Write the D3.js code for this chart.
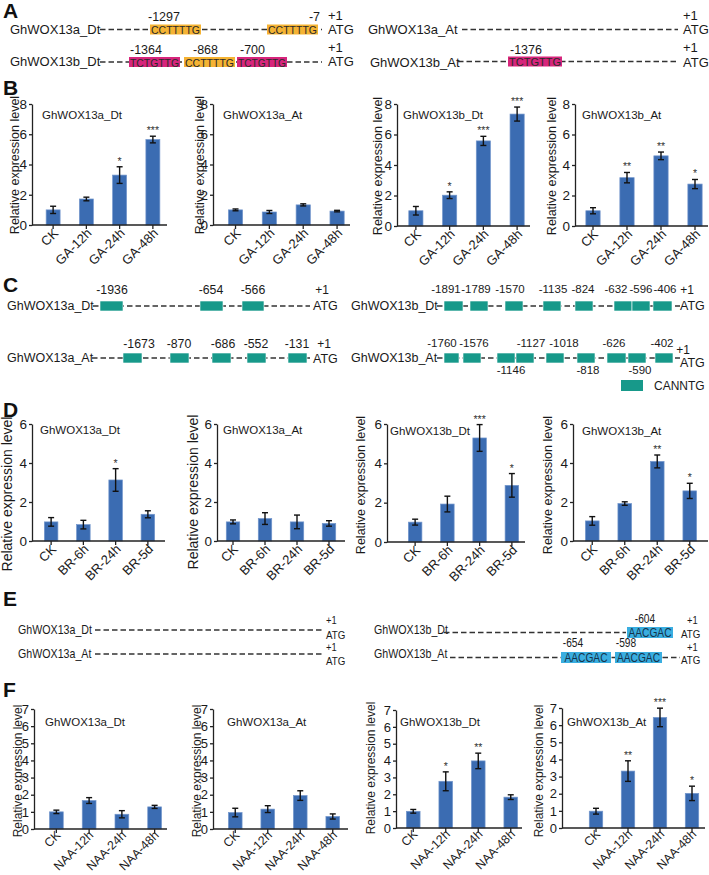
<!DOCTYPE html>
<html><head><meta charset="utf-8">
<script src="https://cdn.jsdelivr.net/npm/d3@7"></script>
<style>
body{margin:0;background:#fff;}
svg{display:block;font-family:"Liberation Sans",Arial,Helvetica,sans-serif;}
</style></head><body>
<svg id="fig" width="709" height="875"></svg>
<script>
// ================= DATA =================
const genes = ["GhWOX13a_Dt","GhWOX13a_At","GhWOX13b_Dt","GhWOX13b_At"];

// Panel B – GA treatment
const gaCategories = ["CK","GA-12h","GA-24h","GA-48h"];
const gaMeans = [[1.0,1.72,3.3,5.65],[1.0,0.86,1.33,0.92],[1.0,2.02,5.58,7.34],[1.0,3.17,4.6,2.75]];
const gaErrors = [[0.24,0.12,0.55,0.22],[0.06,0.1,0.07,0.05],[0.28,0.22,0.3,0.46],[0.2,0.34,0.25,0.3]];
const gaStars = [["","","*","***"],["","","",""],["","*","***","***"],["","**","**","*"]];
const gaTicks = [0,2,4,6,8];

// Panel D – BR treatment
const brCategories = ["CK","BR-6h","BR-24h","BR-5d"];
const brMeans = [[0.98,0.84,3.13,1.37],[0.98,1.15,0.98,0.9],[1.01,1.93,5.29,2.88],[1.03,1.92,4.08,2.57]];
const brErrors = [[0.22,0.22,0.58,0.18],[0.1,0.3,0.35,0.14],[0.15,0.4,0.68,0.6],[0.22,0.09,0.33,0.39]];
const brStars = [["","","*",""],["","","",""],["","","***","*"],["","","**","*"]];
const brTicks = [0,2,4,6];

// Panel F – NAA treatment
const naaCategories = ["CK","NAA-12h","NAA-24h","NAA-48h"];
const naaMeans = [[1.0,1.66,0.86,1.29],[0.96,1.16,1.95,0.73],[0.99,2.77,3.98,1.83],[0.98,3.32,6.45,2.02]];
const naaErrors = [[0.1,0.17,0.21,0.09],[0.25,0.2,0.28,0.15],[0.11,0.56,0.46,0.14],[0.17,0.6,0.54,0.42]];
const naaStars = [["","","",""],["","","",""],["","*","**",""],["","**","***","*"]];
const naaTicks = [0,1,2,3,4,5,6,7];

// Promoter motif data
const panelA = [
  {gene:"GhWOX13a_Dt", motifs:[{pos:"-1297",seq:"CCTTTTG"},{pos:"-7",seq:"CCTTTTG"}]},
  {gene:"GhWOX13b_Dt", motifs:[{pos:"-1364",seq:"TCTGTTG"},{pos:"-868",seq:"CCTTTTG"},{pos:"-700",seq:"TCTGTTG"}]},
  {gene:"GhWOX13a_At", motifs:[]},
  {gene:"GhWOX13b_At", motifs:[{pos:"-1376",seq:"TCTGTTG"}]}
];
const panelC = [
  {gene:"GhWOX13a_Dt", motifs:["-1936","-654","-566"]},
  {gene:"GhWOX13a_At", motifs:["-1673","-870","-686","-552","-131"]},
  {gene:"GhWOX13b_Dt", motifs:["-1891","-1789","-1570","-1135","-824","-632","-596","-406"]},
  {gene:"GhWOX13b_At", motifs:["-1760","-1576","-1146","-1127","-1018","-818","-626","-590","-402"]}
];
const panelCLegend = "CANNTG";
const panelE = [
  {gene:"GhWOX13a_Dt", motifs:[]},
  {gene:"GhWOX13a_At", motifs:[]},
  {gene:"GhWOX13b_Dt", motifs:[{pos:"-604",seq:"AACGAC"}]},
  {gene:"GhWOX13b_At", motifs:[{pos:"-654",seq:"AACGAC"},{pos:"-598",seq:"AACGAC"}]}
];

// ================= LAYOUT / STYLE =================
const C = {bar:"#3b6cb2", barEdge:"#7396cc", axis:"#222", text:"#1a1a1a",
  CCTTTTG:"#f5b333", TCTGTTG:"#d7257c", canntg:"#17998a", AACGAC:"#3aaee0"};

const layoutB = [
  {ax:32,  xEnd:167, band:[36.5,169.5], yTop:104, yBot:225, lab:[15,165,12.5], title:[42,119]},
  {ax:213, xEnd:350, band:[218.6,354], yTop:104, yBot:225, lab:[200,165,12.5], title:[223,119]},
  {ax:397, xEnd:530, band:[399,534],   yTop:104, yBot:226, lab:[378,166,12.5], title:[403,119]},
  {ax:575, xEnd:708, band:[576,712],   yTop:104, yBot:226, lab:[552,166,12.5], title:[582,119]}
];
const layoutD = [
  {ax:32,  xEnd:165, band:[35,164],  yTop:424, yBot:541, lab:[7,494,14],    title:[40,434]},
  {ax:217, xEnd:345, band:[217,345], yTop:424, yBot:541, lab:[193,492,14],  title:[223,434]},
  {ax:387, xEnd:525, band:[399,528], yTop:424, yBot:542, lab:[361,485,12.5],title:[390,435]},
  {ax:573, xEnd:708, band:[576,706], yTop:424, yBot:541, lab:[548,485,12.5],title:[582,435]}
];
const layoutF = [
  {ax:34,  xEnd:167, band:[40,171],  yTop:709, yBot:829, lab:[17.5,771,12], title:[45,726]},
  {ax:213, xEnd:348, band:[219,349], yTop:709, yBot:829, lab:[197,771,12],  title:[227,726]},
  {ax:396, xEnd:522, band:[397,527], yTop:710, yBot:828, lab:[371,768,12],  title:[400,726]},
  {ax:562, xEnd:705, band:[580,708], yTop:708, yBot:828, lab:[539,771,12],  title:[567,726]}
];

const svg = d3.select("#fig");

// ---------- panel letters ----------
const letters = [["A",3,18],["B",3,95],["C",3,292],["D",3,417],["E",3,606],["F",3,697]];
svg.selectAll("text.letter").data(letters).join("text").attr("class","letter")
  .attr("x",d=>d[1]).attr("y",d=>d[2]).text(d=>d[0])
  .style("font-size","21px").style("font-weight","bold").attr("fill","#111");

// ---------- bar charts ----------
function barChart(cats, means, errs, stars, ticks, ymax, gene, L, tickFs, xFs, xOff) {
  const g = svg.append("g");
  const x = d3.scaleBand().domain(cats).range(L.band).paddingInner(0.58).paddingOuter(0.29);
  const y = d3.scaleLinear().domain([0,ymax]).range([L.yBot, L.yTop]);
  const rows = cats.map((c,i)=>({c, m:means[i], e:errs[i], s:stars[i]}));

  g.selectAll("rect.bar").data(rows).join("rect").attr("class","bar")
    .attr("x",d=>x(d.c)).attr("width",x.bandwidth())
    .attr("y",d=>y(d.m)).attr("height",d=>y(0)-y(d.m))
    .attr("fill",C.bar).attr("stroke",C.barEdge).attr("stroke-width",0.7);

  const cx = d=>x(d.c)+x.bandwidth()/2;
  const eb = g.selectAll("g.eb").data(rows).join("g").attr("class","eb")
    .attr("stroke","#111").attr("stroke-width",1.4);
  eb.append("line").attr("x1",cx).attr("x2",cx).attr("y1",d=>y(d.m-d.e)).attr("y2",d=>y(d.m+d.e));
  eb.append("line").attr("x1",d=>cx(d)-3).attr("x2",d=>cx(d)+3).attr("y1",d=>y(d.m+d.e)).attr("y2",d=>y(d.m+d.e));
  eb.append("line").attr("x1",d=>cx(d)-3).attr("x2",d=>cx(d)+3).attr("y1",d=>y(d.m-d.e)).attr("y2",d=>y(d.m-d.e));

  g.selectAll("text.star").data(rows.filter(d=>d.s)).join("text").attr("class","star")
    .attr("x",cx).attr("y",d=>y(d.m+d.e)-2).attr("text-anchor","middle")
    .style("font-size","10.5px").attr("fill","#333").text(d=>d.s);

  // y axis
  const ya = g.append("g").attr("transform",`translate(${L.ax},0)`)
    .call(d3.axisLeft(y).tickValues(ticks).tickFormat(d3.format("d")).tickSize(3).tickSizeOuter(0).tickPadding(2));
  ya.select(".domain").attr("stroke",C.axis).attr("stroke-width",1.3);
  ya.selectAll(".tick line").attr("stroke",C.axis).attr("stroke-width",1.3);
  ya.selectAll(".tick text").style("font-size",tickFs+"px").attr("fill",C.text)
    .style("font-family","'Liberation Sans',Arial,sans-serif");

  // x axis
  const xa = g.append("g").attr("transform",`translate(0,${L.yBot})`)
    .call(d3.axisBottom(x).tickSize(4).tickSizeOuter(0));
  xa.select(".domain").remove();
  xa.append("line").attr("x1",L.ax).attr("x2",L.xEnd).attr("y1",0).attr("y2",0)
    .attr("stroke",C.axis).attr("stroke-width",1.3);
  xa.selectAll(".tick line").attr("stroke",C.axis).attr("stroke-width",1.3);
  xa.selectAll(".tick text").style("font-size",xFs+"px").attr("fill",C.text)
    .style("font-family","'Liberation Sans',Arial,sans-serif")
    .attr("text-anchor","end").attr("dy",null).attr("y",null)
    .attr("transform",`translate(${xOff[0]},${xOff[1]}) rotate(-45)`);

  // y label
  g.append("text").attr("transform",`translate(${L.lab[0]},${L.lab[1]}) rotate(-90)`)
    .attr("text-anchor","middle").attr("dy","0.35em").style("font-size",L.lab[2]+"px")
    .attr("fill",C.text).text("Relative expression level");
  // title
  g.append("text").attr("x",L.title[0]).attr("y",L.title[1]).style("font-size","11.5px")
    .attr("fill",C.text).text(gene);
}

genes.forEach((gn,i)=>{
  barChart(gaCategories, gaMeans[i], gaErrors[i], gaStars[i], gaTicks, 8, gn, layoutB[i], 13.5, 13, [6,9]);
  barChart(brCategories, brMeans[i], brErrors[i], brStars[i], brTicks, 6, gn, layoutD[i], 13.5, 13, [6,9]);
  barChart(naaCategories, naaMeans[i], naaErrors[i], naaStars[i], naaTicks, 7, gn, layoutF[i], 13, 12.3, [5,7]);
});

// ---------- promoter diagrams ----------
function dashLine(g,x1,x2,yy){
  g.append("line").attr("x1",x1).attr("x2",x2).attr("y1",yy).attr("y2",yy)
    .attr("stroke","#333").attr("stroke-width",1.4).attr("stroke-dasharray","5.5,3");
}
function txt(g,x,yy,s,fs,anchor,sx){
  const t = g.append("text").attr("text-anchor",anchor||"start").style("font-size",fs+"px")
    .attr("fill",C.text).text(s);
  if (sx) t.attr("transform",`translate(${x},${yy}) scale(${sx},1)`);
  else t.attr("x",x).attr("y",yy);
  return t;
}

// Panel A layout
const layoutA = [
  {x0:10, base:34, lineY:29.5, line:[100,322], atg:328, plusBase:20, boxY:24.5, boxH:10, labBase:21,
   boxes:[{x:150,w:51,lx:148,a:"start"},{x:267,w:51,lx:320,a:"end"}]},
  {x0:10, base:66, lineY:62, line:[100,322], atg:328, plusBase:52, boxY:57, boxH:10, labBase:54,
   boxes:[{x:129,w:51,lx:130,a:"start"},{x:184,w:51,lx:193,a:"start"},{x:237,w:50,lx:240,a:"start"}]},
  {x0:368, base:34, lineY:29.5, line:[462,678], atg:683, plusBase:20, boxY:24.5, boxH:10, labBase:21, boxes:[]},
  {x0:370, base:67, lineY:61.5, line:[458,678], atg:683, plusBase:52, boxY:56.5, boxH:10, labBase:54,
   boxes:[{x:508,w:54,lx:510,a:"start"}]}
];
const gA = svg.append("g");
panelA.forEach((row,i)=>{
  const L = layoutA[i];
  txt(gA,L.x0,L.base,row.gene,13);
  dashLine(gA,L.line[0],L.line[1],L.lineY);
  row.motifs.forEach((m,j)=>{
    const b = L.boxes[j];
    gA.append("rect").attr("x",b.x).attr("y",L.boxY).attr("width",b.w).attr("height",L.boxH).attr("fill",C[m.seq]);
    txt(gA,b.x+b.w/2,L.boxY+L.boxH-0.5,m.seq,11.5,"middle").attr("textLength",b.w-2).attr("lengthAdjust","spacingAndGlyphs").attr("fill","#2a2a2a");
    txt(gA,b.lx,L.labBase,m.pos,12.5,b.a);
  });
  txt(gA,L.atg,L.plusBase,"+1",13);
  txt(gA,L.atg,L.base-0.5,"ATG",13);
});

// Panel C layout
const layoutC = [
  {x0:7, base:310, lineY:306, line:[93,310], boxY:301, boxH:10, plus:[322,294], atg:[313,310], labBase:294,
   boxes:[{x:100,w:23,lx:112},{x:200,w:23,lx:211},{x:242,w:22,lx:253}]},
  {x0:7, base:362, lineY:358, line:[92,310], boxY:353, boxH:10, plus:[324,348], atg:[313,363], labBase:348,
   boxes:[{x:123,w:19,lx:139},{x:170,w:19,lx:179},{x:212,w:19,lx:223},{x:247,w:19,lx:256},{x:288,w:19,lx:297}]},
  {x0:351, base:310, lineY:306, line:[437,680], boxY:301, boxH:10, plus:[687,294], atg:[680,310], labBase:293,
   boxes:[{x:444,w:19,lx:446},{x:470,w:18,lx:476},{x:505,w:18,lx:510},{x:543,w:18,lx:553},{x:575,w:18,lx:583},
          {x:614,w:18,lx:616},{x:632,w:18,lx:641},{x:653,w:19,lx:665}]},
  {x0:351, base:362, lineY:358, line:[437,680], boxY:353, boxH:10, plus:[683,354], atg:[680,367], labBase:347,
   boxes:[{x:444,w:15,lx:442},{x:463,w:18,lx:474},{x:497,w:18,lx:511,below:true},{x:516,w:18,lx:531},
          {x:546,w:18,lx:564},{x:577,w:18,lx:588,below:true},{x:607,w:19,lx:614},{x:628,w:18,lx:640,below:true},{x:655,w:18,lx:662}]}
];
const gC = svg.append("g");
panelC.forEach((row,i)=>{
  const L = layoutC[i];
  txt(gC,L.x0,L.base,row.gene,12.5);
  dashLine(gC,L.line[0],L.line[1],L.lineY);
  row.motifs.forEach((m,j)=>{
    const b = L.boxes[j];
    gC.append("rect").attr("x",b.x).attr("y",L.boxY).attr("width",b.w).attr("height",L.boxH)
      .attr("fill",C.canntg).attr("stroke","#fff").attr("stroke-width",0.6);
    txt(gC,b.lx,b.below?374:L.labBase,m,i>=2?11.5:12.3,"middle");
  });
  txt(gC,L.plus[0],L.plus[1],"+1",12,"middle");
  txt(gC,L.atg[0],L.atg[1],"ATG",12.5);
});
gC.append("rect").attr("x",621).attr("y",380).attr("width",22).attr("height",11).attr("fill",C.canntg);
txt(gC,654,390,panelCLegend,12);

// Panel E layout
const layoutE = [
  {x0:18, base:634, lineY:630, line:[95,323], plus:[326,624], atg:[326,638.5], boxY:627, boxH:11, labBase:623, boxes:[]},
  {x0:18, base:658, lineY:654, line:[95,323], plus:[326,651], atg:[326,665], boxY:652, boxH:11, labBase:648, boxes:[]},
  {x0:374, base:634, lineY:632.5, line:[444,626], plus:[687,624], atg:[681,638], boxY:627, boxH:11, labBase:623,
   boxes:[{x:627,w:46,lx:645}]},
  {x0:374, base:658, lineY:657.5, line:[450,680], plus:[687,651], atg:[681,664], boxY:652, boxH:11, labBase:647,
   boxes:[{x:561,w:50,lx:573},{x:615,w:47,lx:626}]}
];
const gE = svg.append("g");
panelE.forEach((row,i)=>{
  const L = layoutE[i];
  txt(gE,L.x0,L.base,row.gene,13,"start",0.82);
  dashLine(gE,L.line[0],L.line[1],L.lineY);
  row.motifs.forEach((m,j)=>{
    const b = L.boxes[j];
    gE.append("rect").attr("x",b.x).attr("y",L.boxY).attr("width",b.w).attr("height",L.boxH).attr("fill",C[m.seq]);
    txt(gE,b.x+b.w/2,L.boxY+L.boxH-1,m.seq,12,"middle",0.85).attr("fill","#15324a");
    txt(gE,b.lx,L.labBase,m.pos,12,"middle",0.85);
  });
  txt(gE,L.plus[0],L.plus[1],"+1",11,"start",0.85);
  txt(gE,L.atg[0],L.atg[1],"ATG",11.5,"start",0.85);
});
</script>
</body></html>
